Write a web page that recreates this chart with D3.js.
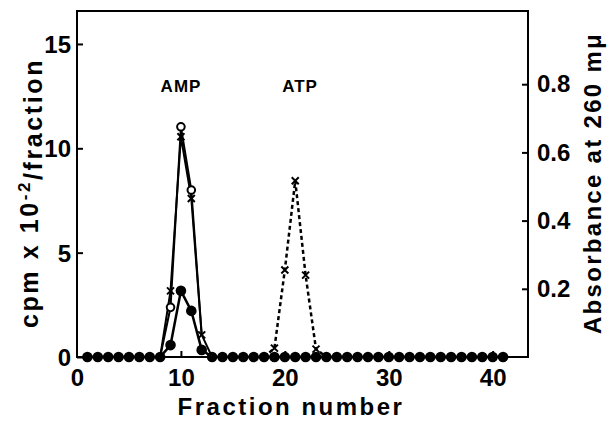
<!DOCTYPE html>
<html>
<head>
<meta charset="utf-8">
<script src="https://cdn.jsdelivr.net/npm/d3@7"></script>
<style>
  body { margin: 0; background: #fff; }
  svg { font-family: "Liberation Sans", Arial, sans-serif; font-weight: bold; }
  .axis path { display: none; }
  .axis line { stroke: #000; stroke-width: 2; }
  .axis text { font-size: 24px; font-weight: bold; fill: #000; }
</style>
</head>
<body>
<svg id="chart" width="609" height="423"></svg>
<script>
// fraction numbers
var fractions = d3.range(1, 42);

// filled circles, cpm x 10^-2 (left axis); zero outside the AMP peak
var filledPeakFractions = [9, 10, 11, 12];
var filledPeakValues = [0.57, 3.17, 2.21, 0.34];

// open circles, cpm x 10^-2 (left axis), AMP peak
var openFractions = [8, 9, 10, 11, 12];
var openValues = [0, 2.38, 11.03, 8.0, 1.05];

// crosses, absorbance at 260 (right axis), AMP peak
var ampCrossFractions = [8, 9, 10, 11, 12, 13];
var ampCrossValues = [0, 0.194, 0.646, 0.465, 0.065, 0];

// crosses, absorbance at 260 (right axis), ATP peak (dashed)
var atpCrossFractions = [18, 19, 20, 21, 22, 23, 24];
var atpCrossValues = [0, 0.026, 0.255, 0.517, 0.24, 0.023, 0];

var xTicks = [0, 10, 20, 30, 40];
var leftTicks = [0, 5, 10, 15];
var rightTicks = [0.2, 0.4, 0.6, 0.8];

// plot frame (note: "top" is taken by window.top, so use other names)
var frameLeft = 77, frameRight = 528, frameTop = 11, frameBottom = 357;

var svg = d3.select("#chart");

var x = d3.scaleLinear().domain([0, 43.4]).range([frameLeft, frameRight]),
    yL = d3.scaleLinear().domain([0, (frameBottom - frameTop) / 20.87]).range([frameBottom, frameTop]),
    yR = d3.scaleLinear().domain([0, (frameBottom - frameTop) / 341]).range([frameBottom, frameTop]);

// frame
svg.append("rect")
    .attr("x", frameLeft)
    .attr("y", frameTop)
    .attr("width", frameRight - frameLeft)
    .attr("height", frameBottom - frameTop)
    .attr("fill", "none")
    .attr("stroke", "#000")
    .attr("stroke-width", 2);

// axes, ticks pointing into the plot
svg.append("g")
    .attr("class", "axis")
    .attr("transform", "translate(0," + frameBottom + ")")
    .call(d3.axisBottom(x).tickValues(xTicks).tickSize(-6).tickPadding(12).tickFormat(d3.format("d")))
    .selectAll("line").filter(function(d) { return d === 0; }).remove();

svg.append("g")
    .attr("class", "axis")
    .attr("transform", "translate(" + frameLeft + ",0)")
    .call(d3.axisLeft(yL).tickValues(leftTicks).tickSize(-6).tickPadding(6).tickFormat(d3.format("d")))
    .selectAll(".tick text").attr("dy", "0.36em");

svg.append("g")
    .attr("class", "axis")
    .attr("transform", "translate(" + frameRight + ",0)")
    .call(d3.axisRight(yR).tickValues(rightTicks).tickSize(-6).tickPadding(9).tickFormat(d3.format(".1f")));

// axis titles
svg.append("text")
    .attr("transform", "translate(38,193) rotate(-90)")
    .attr("text-anchor", "middle")
    .style("font-size", "25px")
    .style("letter-spacing", "2.6px")
    .call(function(t) {
      t.append("tspan").text("cpm x 10");
      t.append("tspan").attr("dy", "-0.5em").style("font-size", "17px").text("-2");
      t.append("tspan").attr("dy", "0.5em").text("/fraction");
    });

svg.append("text")
    .attr("transform", "translate(601,183) rotate(-90)")
    .attr("text-anchor", "middle")
    .style("font-size", "24px")
    .style("letter-spacing", "2.3px")
    .text("Absorbance at 260 m\u03bc");

svg.append("text")
    .attr("x", 291)
    .attr("y", 415)
    .attr("text-anchor", "middle")
    .style("font-size", "24px")
    .style("letter-spacing", "2.5px")
    .text("Fraction number");

// peak labels
svg.append("text").attr("x", 181).attr("y", 92).attr("text-anchor", "middle")
    .style("font-size", "17px").style("letter-spacing", "1px").text("AMP");
svg.append("text").attr("x", 300).attr("y", 92).attr("text-anchor", "middle")
    .style("font-size", "17px").style("letter-spacing", "1px").text("ATP");

// series data
var filled = fractions.map(function(f) {
  var i = filledPeakFractions.indexOf(f);
  return [f, i < 0 ? 0 : filledPeakValues[i]];
});
var open = openFractions.map(function(f, i) { return [f, openValues[i]]; });
var ampCross = ampCrossFractions.map(function(f, i) { return [f, ampCrossValues[i]]; });
var atpCross = atpCrossFractions.map(function(f, i) { return [f, atpCrossValues[i]]; });

var lineL = d3.line().x(function(d) { return x(d[0]); }).y(function(d) { return yL(d[1]); }),
    lineR = d3.line().x(function(d) { return x(d[0]); }).y(function(d) { return yR(d[1]); });

svg.append("path").datum(atpCross).attr("d", lineR)
    .attr("fill", "none").attr("stroke", "#000").attr("stroke-width", 2.5)
    .attr("stroke-dasharray", "4,3");

svg.append("path").datum(ampCross).attr("d", lineR)
    .attr("fill", "none").attr("stroke", "#000").attr("stroke-width", 2);

svg.append("path").datum(open).attr("d", lineL)
    .attr("fill", "none").attr("stroke", "#000").attr("stroke-width", 2);

svg.append("path").datum(filled).attr("d", lineL)
    .attr("fill", "none").attr("stroke", "#000").attr("stroke-width", 2.5);

// filled circles
svg.selectAll("circle.filled").data(filled).enter().append("circle")
    .attr("class", "filled")
    .attr("cx", function(d) { return x(d[0]); })
    .attr("cy", function(d) { return yL(d[1]); })
    .attr("r", 5.3)
    .attr("fill", "#000");

// open circles
svg.selectAll("circle.open").data(open.filter(function(d) { return d[1] > 0 && d[0] < 12; })).enter().append("circle")
    .attr("class", "open")
    .attr("cx", function(d) { return x(d[0]); })
    .attr("cy", function(d) { return yL(d[1]); })
    .attr("r", 3.8)
    .attr("fill", "#fff")
    .attr("stroke", "#000")
    .attr("stroke-width", 2);

// crosses
var crosses = ampCross.concat(atpCross).filter(function(d) { return d[1] > 0; });
var cross = svg.selectAll("g.cross").data(crosses).enter().append("g")
    .attr("class", "cross")
    .attr("transform", function(d) { return "translate(" + x(d[0]) + "," + yR(d[1]) + ")"; });
cross.append("path")
    .attr("d", "M-3.5,-3.5L3.5,3.5M-3.5,3.5L3.5,-3.5")
    .attr("stroke", "#000")
    .attr("stroke-width", 2);
</script>
</body>
</html>
